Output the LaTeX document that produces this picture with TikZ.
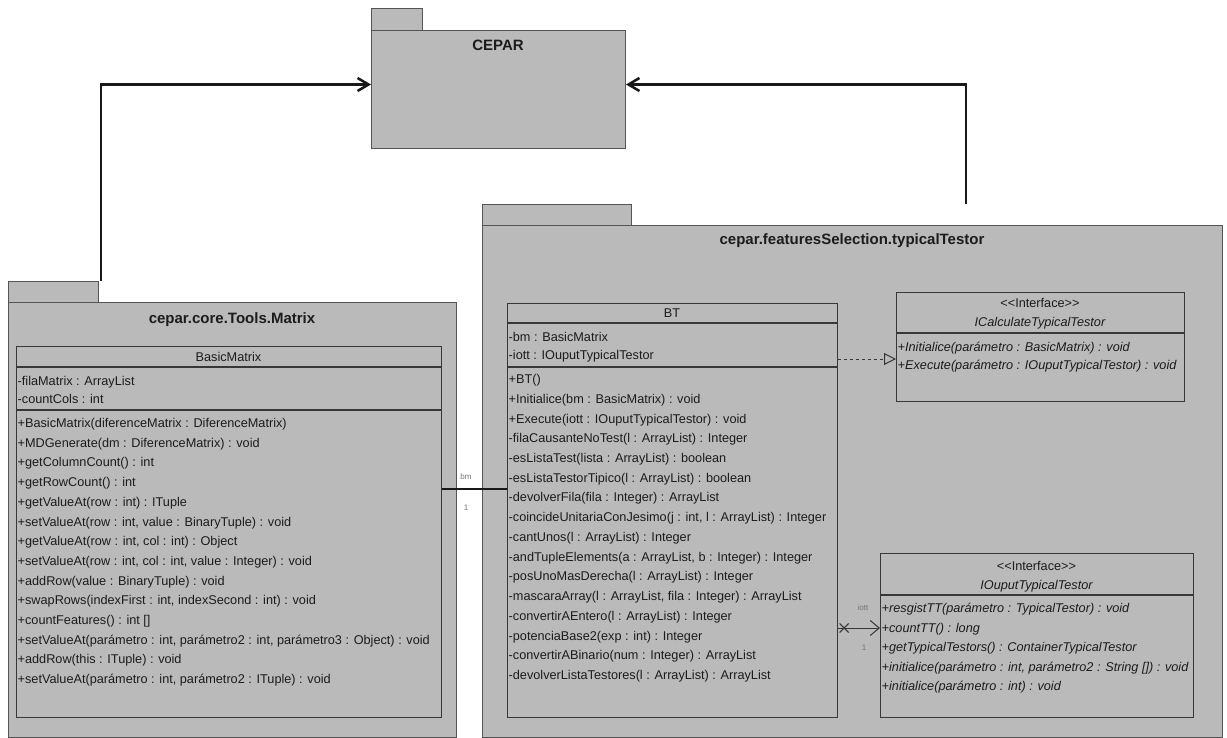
\documentclass[tikz,border=0pt]{standalone}
\usepackage{fontspec}
\setmainfont{Liberation Sans}
\usetikzlibrary{arrows.meta,shapes.misc}

\definecolor{pkgfill}{RGB}{186,186,186}
\definecolor{pkgline}{RGB}{85,85,85}
\definecolor{clsline}{RGB}{55,55,55}
\definecolor{txt}{RGB}{28,28,28}

\tikzset{
	pkg/.style={draw=pkgline, fill=pkgfill, line width=1bp, inner sep=0pt, anchor=north west},
	cls/.style={draw=clsline, line width=1.3bp, inner sep=0pt, anchor=north west},
	pkgtitle/.style={font=\fontsize{15bp}{17bp}\selectfont\bfseries, text=txt, inner sep=0pt},
	clsname/.style={font=\fontsize{12.7bp}{15bp}\selectfont, text=txt, inner sep=0pt},
	rows/.style={font=\fontsize{12.7bp}{#1}\selectfont, text=txt, align=left, inner sep=0pt, anchor=north west},
	mult/.style={font=\fontsize{8bp}{9bp}\selectfont, text=black!55, inner sep=0pt},
	pkgdep/.style={line width=2.5bp, draw=black!90, -{Straight Barb[length=11bp, width=13bp]}},
	assocbold/.style={line width=2.5bp, draw=black!90},
	realize/.style={line width=1bp, draw=clsline, dash pattern=on 3bp off 3bp, -{Triangle[open, length=12bp, width=12bp]}},
	navig/.style={line width=1bp, draw=clsline, -{Straight Barb[length=9bp, width=15bp]}},
	crossmark/.style={cross out, draw=clsline, line width=1bp, minimum size=8bp, inner sep=0pt}
}

\begin{document}
\begin{tikzpicture}[x=1bp, y=-1bp]
	\useasboundingbox (0,0) rectangle (1227,738);

	% package CEPAR
	\node[pkg, minimum width=51bp, minimum height=22bp] (ceparTab) at (371,8) {};
	\node[pkg, minimum width=254bp, minimum height=118bp] (cepar) at (371,30) {};
	\node[pkgtitle] (ceparName) at (498,45) {CEPAR};

	% package cepar.core.Tools.Matrix
	\node[pkg, minimum width=90bp, minimum height=21bp] (matrixTab) at (8,281) {};
	\node[pkg, minimum width=448bp, minimum height=435bp] (matrix) at (8,302) {};
	\node[pkgtitle] (matrixName) at (232,320) {cepar.core.Tools.Matrix};

	% package cepar.featuresSelection.typicalTestor
	\node[pkg, minimum width=149bp, minimum height=21bp] (typicalTab) at (482,204) {};
	\node[pkg, minimum width=740bp, minimum height=512bp] (typical) at (482,225) {};
	\node[pkgtitle] (typicalName) at (852,241) {cepar.featuresSelection.typicalTestor};

	% dependencies towards CEPAR
	\coordinate (matrixOut) at (101,281);
	\coordinate (typicalOut) at (966,204);
	\draw[pkgdep] (matrixOut) |- ([yshift=5bp]cepar.west);
	\draw[pkgdep] (typicalOut) |- ([yshift=5bp]cepar.east);

	% class BasicMatrix
	\node[cls, minimum width=425bp, minimum height=371bp] (basic) at (16,346) {};
	\draw[cls] (16,367) -- (441,367);
	\draw[cls] (16,410) -- (441,410);
	\node[clsname] (basicName) at (228.5,356.5) {BasicMatrix};
	\node[rows=18bp] (basicAttr) at (17.5,372.8) {\strut-filaMatrix : ArrayList\\-countCols : int};
	\node[rows=19.7bp] (basicOps) at (17.5,413.6) {\strut+BasicMatrix(diferenceMatrix : DiferenceMatrix)\\
		+MDGenerate(dm : DiferenceMatrix) : void\\
		+getColumnCount() : int\\
		+getRowCount() : int\\
		+getValueAt(row : int) : ITuple\\
		+setValueAt(row : int, value : BinaryTuple) : void\\
		+getValueAt(row : int, col : int) : Object\\
		+setValueAt(row : int, col : int, value : Integer) : void\\
		+addRow(value : BinaryTuple) : void\\
		+swapRows(indexFirst : int, indexSecond : int) : void\\
		+countFeatures() : int []\\
		+setValueAt(parámetro : int, parámetro2 : int, parámetro3 : Object) : void\\
		+addRow(this : ITuple) : void\\
		+setValueAt(parámetro : int, parámetro2 : ITuple) : void};

	% class BT
	\node[cls, minimum width=330bp, minimum height=414bp] (bt) at (507,303) {};
	\draw[cls] (507,323) -- (837,323);
	\draw[cls] (507,367) -- (837,367);
	\node[clsname] (btName) at (672,313) {BT};
	\node[rows=18bp] (btAttr) at (508.5,328.8) {\strut-bm : BasicMatrix\\-iott : IOuputTypicalTestor};
	\node[rows=19.73bp] (btOps) at (508.5,369.6) {\strut+BT()\\
		+Initialice(bm : BasicMatrix) : void\\
		+Execute(iott : IOuputTypicalTestor) : void\\
		-filaCausanteNoTest(l : ArrayList) : Integer\\
		-esListaTest(lista : ArrayList) : boolean\\
		-esListaTestorTipico(l : ArrayList) : boolean\\
		-devolverFila(fila : Integer) : ArrayList\\
		-coincideUnitariaConJesimo(j : int, l : ArrayList) : Integer\\
		-cantUnos(l : ArrayList) : Integer\\
		-andTupleElements(a : ArrayList, b : Integer) : Integer\\
		-posUnoMasDerecha(l : ArrayList) : Integer\\
		-mascaraArray(l : ArrayList, fila : Integer) : ArrayList\\
		-convertirAEntero(l : ArrayList) : Integer\\
		-potenciaBase2(exp : int) : Integer\\
		-convertirABinario(num : Integer) : ArrayList\\
		-devolverListaTestores(l : ArrayList) : ArrayList};

	% interface ICalculateTypicalTestor
	\node[cls, minimum width=288bp, minimum height=109bp] (icalc) at (896,292) {};
	\draw[cls] (896,333) -- (1184,333);
	\node[clsname] (icalcStereo) at (1040,303) {<\kern0pt<Interface>\kern0pt>};
	\node[clsname, font=\fontsize{12.7bp}{15bp}\selectfont\itshape] (icalcName) at (1040,323) {ICalculateTypicalTestor};
	\node[rows=18bp, font=\fontsize{12.7bp}{18bp}\selectfont\itshape] (icalcOps) at (897.5,338.8) {\strut+Initialice(parámetro : BasicMatrix) : void\\
		+Execute(parámetro : IOuputTypicalTestor) : void};

	% interface IOuputTypicalTestor
	\node[cls, minimum width=313bp, minimum height=164bp] (iout) at (880,553) {};
	\draw[cls] (880,595) -- (1193,595);
	\node[clsname] (ioutStereo) at (1036.5,566) {<\kern0pt<Interface>\kern0pt>};
	\node[clsname, font=\fontsize{12.7bp}{15bp}\selectfont\itshape] (ioutName) at (1036.5,586) {IOuputTypicalTestor};
	\node[rows=19.5bp, font=\fontsize{12.7bp}{19.5bp}\selectfont\itshape] (ioutOps) at (881.5,598.8) {\strut+resgistTT(parámetro : TypicalTestor) : void\\
		+countTT() : long\\
		+getTypicalTestors() : ContainerTypicalTestor\\
		+initialice(parámetro : int, parámetro2 : String []) : void\\
		+initialice(parámetro : int) : void};

	% association BasicMatrix -- BT
	\coordinate (bmRow) at (0,489);
	\draw[assocbold] (basic.east |- bmRow) -- (bt.west |- bmRow);
	\node[mult] (bmRole) at (466,477) {bm};
	\node[mult] (bmMult) at (466,508) {1};

	% BT realizes ICalculateTypicalTestor
	\coordinate (depRow) at (0,359);
	\draw[realize] (bt.east |- depRow) -- (icalc.west |- depRow);

	% BT navigates to IOuputTypicalTestor
	\coordinate (iottRow) at (0,628);
	\draw[navig] (bt.east |- iottRow) -- node[crossmark, pos=0.14] (iottX) {} (iout.west |- iottRow);
	\node[mult] (iottRole) at (863,608) {iott};
	\node[mult] (iottMult) at (864,648) {1};
\end{tikzpicture}
\end{document}
